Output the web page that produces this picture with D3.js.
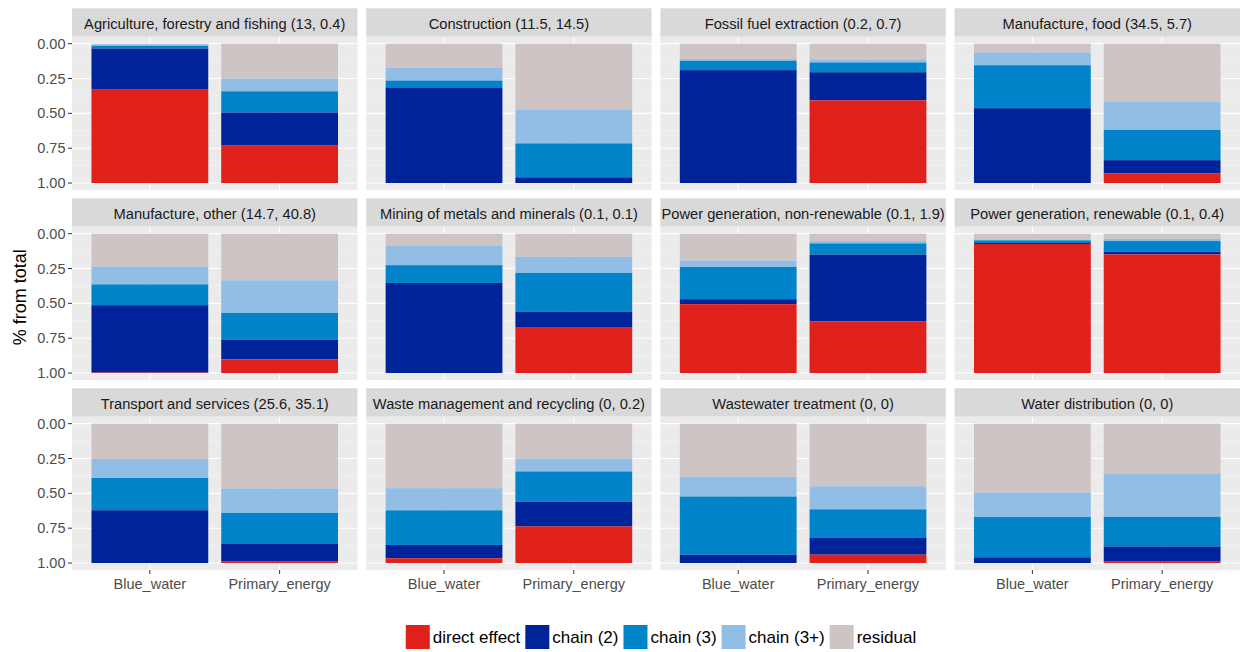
<!DOCTYPE html>
<html>
<head>
<meta charset="utf-8">
<script src="https://cdn.jsdelivr.net/npm/d3@7"></script>
<style>
  html, body { margin: 0; padding: 0; background: #ffffff; }
  svg { display: block; font-family: "Liberation Sans", Arial, sans-serif; }
</style>
</head>
<body>
<svg id="chart" width="1241" height="652"></svg>
<script>
// Sectors shown as facets (label includes the two totals)
const facets = [
  "Agriculture, forestry and fishing (13, 0.4)",
  "Construction (11.5, 14.5)",
  "Fossil fuel extraction (0.2, 0.7)",
  "Manufacture, food (34.5, 5.7)",
  "Manufacture, other (14.7, 40.8)",
  "Mining of metals and minerals (0.1, 0.1)",
  "Power generation, non-renewable (0.1, 1.9)",
  "Power generation, renewable (0.1, 0.4)",
  "Transport and services (25.6, 35.1)",
  "Waste management and recycling (0, 0.2)",
  "Wastewater treatment (0, 0)",
  "Water distribution (0, 0)"
];
const sources = ["Blue_water", "Primary_energy"];
const components = ["direct effect", "chain (2)", "chain (3)", "chain (3+)", "residual"];
const componentColors = ["#E0201B", "#00239A", "#0083C8", "#92BEE6", "#CFC4C4"];
const yTicks = [0, 0.25, 0.5, 0.75, 1];
const yTickLabels = ["0.00", "0.25", "0.50", "0.75", "1.00"];

// Shares per facet: [Blue_water, Primary_energy]
const directEffect = [
  [0.670, 0.272], [0.000, 0.000], [0.000, 0.593], [0.000, 0.070],
  [0.003, 0.098], [0.000, 0.330], [0.494, 0.370], [0.926, 0.851],
  [0.000, 0.010], [0.034, 0.262], [0.000, 0.060], [0.000, 0.010]
];
const chain2 = [
  [0.295, 0.234], [0.682, 0.041], [0.810, 0.202], [0.537, 0.094],
  [0.484, 0.140], [0.646, 0.111], [0.036, 0.480], [0.007, 0.019],
  [0.379, 0.130], [0.096, 0.178], [0.060, 0.123], [0.041, 0.109]
];
const chain3 = [
  [0.020, 0.152], [0.053, 0.243], [0.067, 0.070], [0.308, 0.217],
  [0.149, 0.193], [0.128, 0.277], [0.231, 0.080], [0.019, 0.077],
  [0.231, 0.219], [0.248, 0.217], [0.417, 0.202], [0.289, 0.212]
];
const chain3plus = [
  [0.010, 0.092], [0.092, 0.241], [0.012, 0.022], [0.092, 0.202],
  [0.128, 0.234], [0.142, 0.116], [0.046, 0.017], [0.007, 0.017],
  [0.137, 0.176], [0.159, 0.092], [0.142, 0.166], [0.176, 0.308]
];
const residual = [
  [0.005, 0.250], [0.173, 0.475], [0.111, 0.113], [0.063, 0.417],
  [0.236, 0.335], [0.084, 0.166], [0.193, 0.053], [0.041, 0.036],
  [0.253, 0.465], [0.463, 0.251], [0.381, 0.449], [0.494, 0.361]
];

const seriesByComponent = {
  "direct effect": directEffect,
  "chain (2)": chain2,
  "chain (3)": chain3,
  "chain (3+)": chain3plus,
  "residual": residual
};
const color = d3.scaleOrdinal().domain(components).range(componentColors);

// Layout of the facet grid
const plotLeft = 72, plotRight = 1240;
const nCol = 4, nRow = 3;
const colGap = 8.7;
const panelW = (plotRight - plotLeft - colGap * (nCol - 1)) / nCol;
const firstStripTop = 8.3, rowPitch = 190;
const stripH = 28.4, panelH = 153.3;

const svg = d3.select("#chart");

// Stack from the top of the axis: residual first, direct effect at the bottom
const stackKeys = ["residual", "chain (3+)", "chain (3)", "chain (2)", "direct effect"];

facets.forEach((facet, i) => {
  const col = i % nCol, row = Math.floor(i / nCol);
  const px = plotLeft + col * (panelW + colGap);
  const stripTop = firstStripTop + row * rowPitch;
  const py = stripTop + stripH;

  const g = svg.append("g");

  // strip
  g.append("rect")
    .attr("x", px).attr("y", stripTop)
    .attr("width", panelW).attr("height", stripH)
    .attr("fill", "#D9D9D9");
  g.append("text")
    .attr("x", px + panelW / 2).attr("y", stripTop + stripH / 2 + 6.8)
    .attr("text-anchor", "middle")
    .attr("font-size", "14.7px")
    .attr("fill", "#1A1A1A")
    .text(facet);

  // panel background
  g.append("rect")
    .attr("x", px).attr("y", py)
    .attr("width", panelW).attr("height", panelH)
    .attr("fill", "#EBEBEB");

  const x = d3.scalePoint().domain(sources).range([px, px + panelW]).padding(0.6);
  const step = x.step();
  const barW = step * 0.9;
  const y = d3.scaleLinear().domain([-0.05, 1.05]).range([py, py + panelH]);

  // minor grid
  const minor = [0.125, 0.375, 0.625, 0.875];
  g.selectAll(".minor").data(minor).enter().append("line")
    .attr("x1", px).attr("x2", px + panelW)
    .attr("y1", d => y(d)).attr("y2", d => y(d))
    .attr("stroke", "#F5F5F5").attr("stroke-width", 0.6);
  // major grid
  g.selectAll(".majorY").data(yTicks).enter().append("line")
    .attr("x1", px).attr("x2", px + panelW)
    .attr("y1", d => y(d)).attr("y2", d => y(d))
    .attr("stroke", "#FFFFFF").attr("stroke-width", 1.1);
  g.selectAll(".majorX").data(sources).enter().append("line")
    .attr("x1", d => x(d)).attr("x2", d => x(d))
    .attr("y1", py).attr("y2", py + panelH)
    .attr("stroke", "#FFFFFF").attr("stroke-width", 1.1);

  // stacked bars
  const rows = sources.map((s, si) => {
    const o = { source: s };
    components.forEach(c => { o[c] = seriesByComponent[c][i][si]; });
    return o;
  });
  const stacked = d3.stack().keys(stackKeys)(rows);
  stacked.forEach(layer => {
    g.selectAll(null).data(layer).enter().append("rect")
      .attr("x", d => x(d.data.source) - barW / 2)
      .attr("width", barW)
      .attr("y", d => y(d[0]))
      .attr("height", d => Math.max(0, y(d[1]) - y(d[0])))
      .attr("fill", color(layer.key));
  });

  // y axis on the first column
  if (col === 0) {
    const ya = g.append("g");
    yTicks.forEach((t, k) => {
      ya.append("line")
        .attr("x1", px - 4).attr("x2", px)
        .attr("y1", y(t)).attr("y2", y(t))
        .attr("stroke", "#333333").attr("stroke-width", 1);
      ya.append("text")
        .attr("x", px - 6.5).attr("y", y(t) + 5)
        .attr("text-anchor", "end")
        .attr("font-size", "14.5px")
        .attr("fill", "#4D4D4D")
        .text(yTickLabels[k]);
    });
  }
  // x axis on the last row
  if (row === nRow - 1) {
    sources.forEach(s => {
      g.append("line")
        .attr("x1", x(s)).attr("x2", x(s))
        .attr("y1", py + panelH).attr("y2", py + panelH + 4)
        .attr("stroke", "#333333").attr("stroke-width", 1);
      g.append("text")
        .attr("x", x(s)).attr("y", py + panelH + 19)
        .attr("text-anchor", "middle")
        .attr("font-size", "14.5px")
        .attr("fill", "#4D4D4D")
        .text(s);
    });
  }
});

// y axis title
svg.append("text")
  .attr("transform", `translate(26, ${firstStripTop + (rowPitch * 3 - 8.3) / 2 + 8}) rotate(-90)`)
  .attr("text-anchor", "middle")
  .attr("font-size", "18px")
  .attr("fill", "#000000")
  .text("% from total");

// legend
const legend = svg.append("g");
const keySize = 24, keyTextGap = 3, itemGap = 5;
const legendY = 625;
let cursor = 0;
const items = components.map(c => {
  const it = legend.append("g");
  it.append("rect").attr("x", 0).attr("y", 0).attr("width", keySize).attr("height", keySize).attr("fill", color(c));
  const t = it.append("text")
    .attr("x", keySize + keyTextGap).attr("y", keySize / 2 + 6)
    .attr("font-size", "17px").attr("fill", "#000000").text(c);
  const w = keySize + keyTextGap + t.node().getComputedTextLength();
  const start = cursor;
  cursor += w + itemGap;
  return { it, start };
});
const totalW = cursor - itemGap;
const legendLeft = 661 - totalW / 2;
items.forEach(d => d.it.attr("transform", `translate(${legendLeft + d.start}, ${legendY})`));
</script>
</body>
</html>
